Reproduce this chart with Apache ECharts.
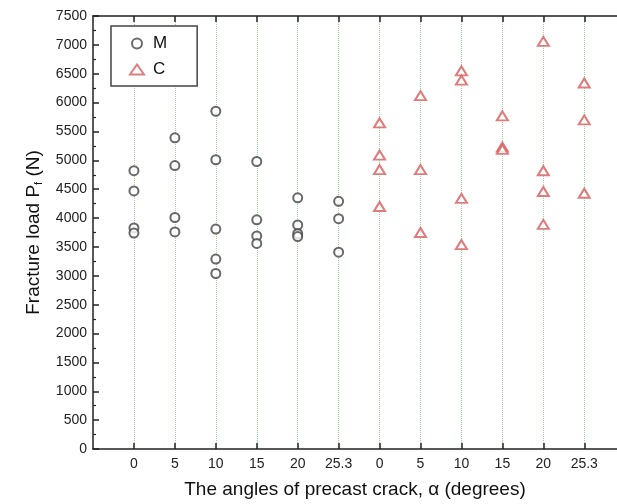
<!DOCTYPE html>
<html>
<head>
<meta charset="utf-8">
<script src="https://cdn.jsdelivr.net/npm/echarts@6/dist/echarts.min.js"></script>
<style>
  html, body { margin: 0; padding: 0; background: #fff; }
  #chart { width: 617px; height: 504px; }
</style>
</head>
<body>
<div id="chart"></div>
<script>
// tick labels along the x axis (M groups, then C groups)
const xLabels = ['0', '5', '10', '15', '20', '25.3', '0', '5', '10', '15', '20', '25.3']
// fracture loads (N), one list per angle
const mValues = [
  [4820, 4470, 3830, 3740],
  [5390, 4910, 4010, 3760],
  [5850, 5010, 3810, 3290, 3040],
  [4980, 3970, 3690, 3560],
  [4350, 3880, 3730, 3680],
  [4290, 3990, 3410]
]
const cValues = [
  [5650, 5090, 4840, 4200],
  [6120, 4840, 3750],
  [6550, 6390, 4340, 3540],
  [5770, 5230, 5190],
  [7060, 4820, 4460, 3890],
  [6340, 5700, 4430]
]

function toPoints(groups, offset) {
  let pts = []
  groups.forEach((list, i) => {
    list.forEach(v => pts.push([i + offset, v]))
  })
  return pts
}

const positions = xLabels.map((l, i) => i)
const font = 'Liberation Sans, Arial, sans-serif'
const chart = echarts.init(document.getElementById('chart'))

const baseX = {
  type: 'value',
  min: -1,
  max: 11.8,
  interval: 1,
  axisLine: { show: true, onZero: false, lineStyle: { color: '#222', width: 1.5 } },
  axisTick: { show: true, inside: true, length: 6, customValues: positions, lineStyle: { color: '#222', width: 1.5 } },
  splitLine: { show: false }
}

chart.setOption({
  animation: false,
  grid: { left: 93, top: 16, right: 0, bottom: 55 },
  legend: {
    left: 111,
    top: 26,
    orient: 'vertical',
    itemWidth: 14,
    itemHeight: 10,
    itemGap: 9,
    padding: [9, 30, 8, 18],
    borderColor: '#444',
    borderWidth: 1.5,
    backgroundColor: '#fff',
    textStyle: { fontFamily: font, fontSize: 17, color: '#111', padding: [0, 0, 0, 4] },
    data: ['M', 'C']
  },
  xAxis: [
    Object.assign({}, baseX, {
      position: 'bottom',
      name: 'The angles of precast crack, α (degrees)',
      nameLocation: 'middle',
      nameGap: 31,
      nameTextStyle: { fontFamily: font, fontSize: 19, color: '#111' },
      axisLabel: {
        margin: 8,
        fontFamily: font,
        fontSize: 14,
        color: '#222',
        customValues: positions,
        formatter: v => (v >= 0 && v < xLabels.length ? xLabels[v] : '')
      },
      splitLine: { show: true, lineStyle: { color: '#9ad89a', type: 'dotted', width: 1 } }
    }),
    Object.assign({}, baseX, {
      position: 'top',
      axisLabel: { show: false }
    })
  ],
  yAxis: {
    type: 'value',
    min: 0,
    max: 7500,
    interval: 500,
    name: '{a|Fracture load P}{s|f}{a| (N)}',
    nameLocation: 'middle',
    nameRotate: 90,
    nameGap: 46,
    nameTextStyle: {
      rich: {
        a: { fontFamily: font, fontSize: 19, color: '#111' },
        s: { fontFamily: font, fontSize: 11, color: '#111', verticalAlign: 'bottom', padding: [12, 0, 0, 0] }
      }
    },
    axisLine: { show: true, onZero: false, lineStyle: { color: '#222', width: 1.5 } },
    axisTick: { show: true, inside: true, length: 6, lineStyle: { color: '#222', width: 1.5 } },
    minorTick: { show: true, splitNumber: 2, length: 3, lineStyle: { color: '#222', width: 1.2 } },
    axisLabel: { margin: 6, fontFamily: font, fontSize: 14, color: '#222', formatter: v => String(v) },
    splitLine: { show: false }
  },
  series: [
    {
      name: 'M',
      type: 'scatter',
      symbol: 'emptyCircle',
      symbolSize: 9,
      itemStyle: { color: '#444', borderWidth: 1.2 },
      data: toPoints(mValues, 0)
    },
    {
      name: 'C',
      type: 'scatter',
      symbol: 'emptyTriangle',
      symbolSize: [11, 9],
      itemStyle: { color: '#d65c5c', borderWidth: 1.2 },
      data: toPoints(cValues, 6)
    }
  ]
})
</script>
</body>
</html>
